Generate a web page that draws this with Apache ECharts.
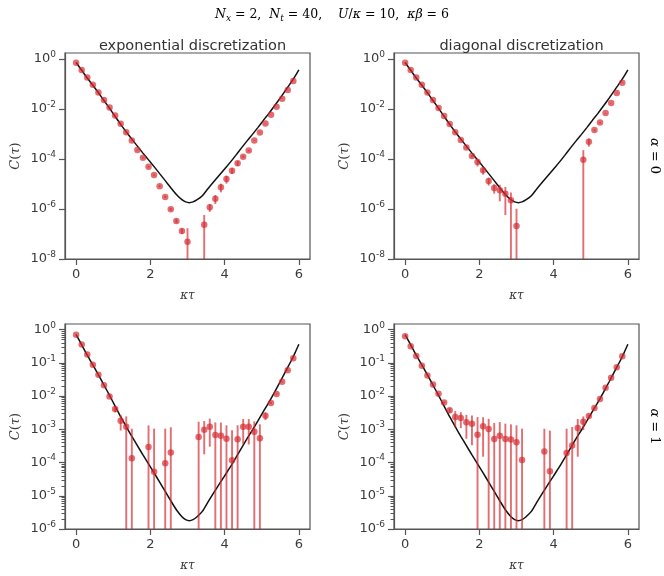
<!DOCTYPE html>
<html>
<head>
<meta charset="utf-8">
<script src="https://cdn.jsdelivr.net/npm/echarts@6/dist/echarts.min.js"></script>
<style>
  html, body { margin: 0; padding: 0; background: #fff; }
  #chart { width: 664px; height: 576px; }
</style>
</head>
<body>
<div id="chart"></div>
<script>
// imaginary time grid of the Monte Carlo data (N_t = 40, beta = 6)
const tau = [0, 0.15, 0.3, 0.45, 0.6, 0.75, 0.9, 1.05, 1.2, 1.35,
  1.5, 1.65, 1.8, 1.95, 2.1, 2.25, 2.4, 2.55, 2.7, 2.85,
  3.0, 3.15, 3.3, 3.45, 3.6, 3.75, 3.9, 4.05, 4.2, 4.35,
  4.5, 4.65, 4.8, 4.95, 5.1, 5.25, 5.4, 5.55, 5.7, 5.85]

// exact correlator (black line)
const exactTau = [0, 0.15, 0.3, 0.45, 0.6, 0.75, 0.9, 1.05, 1.2, 1.35,
  1.5, 1.65, 1.8, 1.95, 2.1, 2.25, 2.4, 2.55, 2.7, 2.85,
  2.95, 3.05, 3.15, 3.25, 3.4, 3.55, 3.7, 3.85, 4.0, 4.15,
  4.3, 4.45, 4.6, 4.75, 4.9, 5.05, 5.2, 5.35, 5.5, 5.65,
  5.8, 5.9, 6.0]
const exactC = [0.708, 0.347, 0.170, 0.0871, 0.0437, 0.0214, 0.0105, 5.01e-3, 2.40e-3, 1.20e-3,
  6.17e-4, 3.24e-4, 1.70e-4, 9.12e-5, 4.90e-5, 2.57e-5, 1.35e-5, 7.08e-6, 3.80e-6, 2.34e-6,
  1.91e-6, 1.78e-6, 1.91e-6, 2.29e-6, 3.39e-6, 6.46e-6, 1.20e-5, 2.19e-5, 3.98e-5, 7.24e-5,
  1.38e-4, 2.69e-4, 5.13e-4, 9.55e-4, 1.82e-3, 3.55e-3, 6.76e-3, 0.0135, 0.0275, 0.0575,
  0.120, 0.204, 0.363]

// alpha = 0, exponential discretization
const expA0 = [0.692, 0.355, 0.178, 0.0912, 0.0447, 0.0224, 0.0112, 5.37e-3, 2.51e-3, 1.17e-3,
  5.37e-4, 2.24e-4, 1.10e-4, 4.90e-5, 2.29e-5, 8.13e-6, 3.02e-6, 9.77e-7, 3.31e-7, 1.32e-7,
  4.90e-8, null, null, 2.34e-7, 1.17e-6, 2.57e-6, 7.41e-6, 1.58e-5, 3.39e-5, 6.76e-5,
  1.23e-4, 2.14e-4, 5.37e-4, 1.12e-3, 2.57e-3, 5.75e-3, 0.0120, 0.0251, 0.0562, 0.129]
const expA0Err = [0.01, 6e-3, 3e-3, 1.5e-3, 8e-4, 4e-4, 2e-4, 1e-4, 6e-5, 3e-5,
  2e-5, 1e-5, 5e-6, 3e-6, 1.5e-6, 7e-7, 3e-7, 1.2e-7, 6e-8, 3e-8,
  1.21e-7, null, null, 3.4e-7, 4e-7, 1e-6, 2.8e-6, 5.5e-6, 8.8e-6, 1.5e-5,
  1.2e-5, 1.5e-5, 2e-5, 3e-5, 5e-5, 1e-4, 2e-4, 4e-4, 8e-4, 2e-3]

// alpha = 0, diagonal discretization
const diagA0 = [0.692, 0.355, 0.178, 0.0912, 0.0447, 0.0224, 0.0107, 5.13e-3, 2.45e-3, 1.17e-3,
  5.62e-4, 2.82e-4, 1.29e-4, 7.59e-5, 3.55e-5, 1.32e-5, 6.92e-6, 5.62e-6, 4.07e-6, 2.24e-6,
  2.09e-7, null, null, null, null, null, null, null, null, null,
  null, null, 9.33e-5, 4.79e-4, 1.41e-3, 2.82e-3, 6.76e-3, 0.0170, 0.0427, 0.110]
const diagA0Err = [0.01, 6e-3, 3e-3, 1.5e-3, 8e-4, 4e-4, 2e-4, 1e-4, 6e-5, 4e-5,
  2e-5, 1.5e-5, 1.2e-5, 2.6e-5, 1.2e-5, 4.6e-6, 2.85e-6, 3.6e-6, 3.5e-6, 2.3e-6,
  8.1e-7, null, null, null, null, null, null, null, null, null,
  null, null, 1.3e-4, 1.7e-4, 1e-4, 1.5e-4, 2e-4, 4e-4, 8e-4, 2e-3]

// alpha = 1, exponential discretization
const expA1 = [0.708, 0.355, 0.178, 0.0871, 0.0437, 0.0214, 9.77e-3, 4.07e-3, 1.82e-3, 1.20e-3,
  1.35e-4, null, null, 2.95e-4, 5.25e-5, null, 9.55e-5, 2.0e-4, null, null,
  null, null, 5.89e-4, 9.77e-4, 1.20e-3, 6.76e-4, 6.46e-4, 5.25e-4, 1.17e-4, 5.01e-4,
  1.20e-3, 1.20e-3, 8.51e-4, 5.37e-4, 2.57e-3, 6.17e-3, 0.0115, 0.0269, 0.0603, 0.138]
const expA1Err = [0.01, 6e-3, 4e-3, 2e-3, 1e-3, 6e-4, 4e-4, 8.3e-4, 9e-4, 1.25e-3,
  9.1e-4, null, null, 1.02e-3, 1.0e-3, null, 9.5e-4, 9.5e-4, null, null,
  null, null, 1.11e-3, 8e-4, 9e-4, 9.4e-4, 9.5e-4, 7.9e-4, 8.2e-4, 8.2e-4,
  8.5e-4, 8.5e-4, 8.8e-4, 8.8e-4, 6.7e-4, 4e-4, 5e-4, 8e-4, 1.5e-3, 3e-3]

// alpha = 1, diagonal discretization
const diagA1 = [0.631, 0.316, 0.162, 0.0813, 0.0417, 0.0224, 0.0117, 6.46e-3, 3.72e-3, 2.34e-3,
  2.19e-3, 1.62e-3, 1.48e-3, 6.92e-4, 1.23e-3, 1.02e-3, 5.13e-4, 6.46e-4, 5.13e-4, 4.90e-4,
  4.07e-4, 1.20e-4, null, null, null, 2.14e-4, 5.50e-5, null, null, 1.95e-4,
  3.24e-4, 1.10e-3, 1.70e-3, 2.51e-3, 4.37e-3, 8.13e-3, 0.0178, 0.0355, 0.0741, 0.158]
const diagA1Err = [0.01, 6e-3, 4e-3, 2e-3, 1e-3, 6e-4, 4e-4, 3e-4, 6.5e-4, 1.2e-3,
  1.1e-3, 1.1e-3, 1.15e-3, 1.65e-3, 1.08e-3, 1.05e-3, 1.04e-3, 1.01e-3, 9.7e-4, 9.2e-4,
  9.1e-4, 9.3e-4, null, null, null, 8.3e-4, 8.6e-4, null, null, 8.5e-4,
  8.5e-4, 9.5e-4, 7.5e-4, 2.5e-4, 2e-4, 3e-4, 5e-4, 8e-4, 1.5e-3, 3e-3]

const xTicks = [0, 2, 4, 6]
const yTicksTop = [1e-8, 1e-6, 1e-4, 1e-2, 1]
const yTicksBottom = [1e-6, 1e-5, 1e-4, 1e-3, 1e-2, 1e-1, 1]

const titles = ['exponential discretization', 'diagonal discretization']
const rowLabels = ['0', '1']

const textColor = '#3a3a3a'
const spineColor = '#555'
const dotColor = 'rgba(214, 40, 46, 0.85)'
const errColor = 'rgba(214, 40, 46, 0.68)'
const mathFont = 'DejaVu Serif'
const xMin = -0.3
const xMax = 6.3

const panels = [
  { vals: expA0, err: expA0Err, yMin: 1e-8, yMax: 1.7, yTicks: yTicksTop, minor: false },
  { vals: diagA0, err: diagA0Err, yMin: 1e-8, yMax: 1.7, yTicks: yTicksTop, minor: false },
  { vals: expA1, err: expA1Err, yMin: 1e-6, yMax: 1.48, yTicks: yTicksBottom, minor: true },
  { vals: diagA1, err: diagA1Err, yMin: 1e-6, yMax: 1.48, yTicks: yTicksBottom, minor: true }
]

const grids = [
  { left: 65, top: 53, width: 245, height: 206 },
  { left: 394, top: 53, width: 245, height: 206 },
  { left: 65, top: 324, width: 245, height: 205 },
  { left: 394, top: 324, width: 245, height: 205 }
]

const mathRich = {
  i: { fontFamily: mathFont, fontStyle: 'italic', fontSize: 13, color: textColor },
  r: { fontFamily: mathFont, fontSize: 13, color: textColor }
}

const supRich = {
  b: { fontFamily: 'DejaVu Sans', fontSize: 13, color: textColor, lineHeight: 18 },
  s: { fontFamily: 'DejaVu Sans', fontSize: 9, color: textColor, lineHeight: 10, verticalAlign: 'top' }
}

function errRenderItem(yMin) {
  return function (params, api) {
    const t = api.value(0)
    const v = api.value(1)
    const s = api.value(2)
    const lo = v - s > 0 ? v - s : yMin
    const p1 = api.coord([t, v + s])
    const p2 = api.coord([t, lo])
    return {
      type: 'line',
      shape: { x1: p1[0], y1: p1[1], x2: p2[0], y2: p2[1] },
      style: { stroke: errColor, lineWidth: 1.9 }
    }
  }
}

const xAxes = []
const yAxes = []
const series = []
const titleList = []

panels.forEach((p, i) => {
  xAxes.push({
    type: 'value', gridIndex: i, min: xMin, max: xMax,
    name: 'κτ', nameLocation: 'middle', nameGap: 31,
    nameTextStyle: { fontFamily: mathFont, fontStyle: 'italic', fontSize: 12, color: textColor },
    axisLine: { onZero: false, lineStyle: { color: spineColor, width: 1.2 } },
    axisTick: { length: 6, lineStyle: { color: spineColor, width: 1.2 }, customValues: xTicks },
    axisLabel: { customValues: xTicks, margin: 9, fontFamily: 'DejaVu Sans', fontSize: 13, color: textColor },
    splitLine: { show: false }
  })
  yAxes.push({
    type: 'log', logBase: 10, gridIndex: i, min: p.yMin, max: p.yMax, position: 'left',
    name: '{i|C}{r|(}{i|τ}{r|)}', nameLocation: 'middle', nameGap: 43, nameRotate: 90,
    nameTextStyle: { rich: mathRich },
    axisLine: { onZero: false, lineStyle: { color: spineColor, width: 1.2 } },
    axisTick: { length: 6, lineStyle: { color: spineColor, width: 1.2 }, customValues: p.yTicks },
    minorTick: { show: p.minor, splitNumber: 9, length: 3.5, lineStyle: { color: spineColor, width: 1 } },
    axisLabel: {
      customValues: p.yTicks, margin: 9, rich: supRich,
      formatter: v => '{b|10}{s|' + Math.round(Math.log10(v)) + '}'
    },
    splitLine: { show: false },
    minorSplitLine: { show: false }
  })

  const pts = []
  const bars = []
  tau.forEach((t, k) => {
    if (p.vals[k] == null) return
    pts.push([t, p.vals[k]])
    bars.push([t, p.vals[k], p.err[k]])
  })
  series.push({
    type: 'line', xAxisIndex: i, yAxisIndex: i,
    data: exactTau.map((t, k) => [t, exactC[k]]),
    showSymbol: false, symbol: 'none', smooth: 0.25,
    lineStyle: { color: '#111', width: 1.5 }, z: 2, silent: true
  })
  series.push({
    type: 'custom', xAxisIndex: i, yAxisIndex: i, data: bars,
    encode: { x: 0, y: 1 }, renderItem: errRenderItem(p.yMin), clip: true, z: 3, silent: true
  })
  series.push({
    type: 'scatter', xAxisIndex: i, yAxisIndex: i, data: pts,
    symbolSize: 6.5, itemStyle: { color: dotColor }, z: 4, silent: true
  })
})

titles.forEach((t, i) => {
  titleList.push({
    text: t, left: grids[i].left + grids[i].width / 2, top: 34, textAlign: 'center',
    textStyle: { fontFamily: 'DejaVu Sans', fontSize: 14.5, fontWeight: 'normal', color: '#333' }
  })
})

const chart = echarts.init(document.getElementById('chart'), null, { renderer: 'canvas' })
chart.setOption({
  backgroundColor: '#fff',
  animation: false,
  title: titleList,
  grid: grids.map(g => Object.assign({ show: true, borderColor: spineColor, borderWidth: 1.2, backgroundColor: 'transparent' }, g)),
  xAxis: xAxes,
  yAxis: yAxes,
  series: series,
  graphic: [
    {
      type: 'text', left: 'center', top: 8,
      style: {
        text: '{i|N}{sub|x}{r| = 2,  }{i|N}{sub|t}{r| = 40,    }{i|U}{r|/}{i|κ}{r| = 10,  }{i|κβ}{r| = 6}',
        rich: {
          i: { fontFamily: mathFont, fontStyle: 'italic', fontSize: 12.5, color: textColor, lineHeight: 18 },
          r: { fontFamily: mathFont, fontSize: 12.5, color: textColor, lineHeight: 18 },
          sub: { fontFamily: mathFont, fontStyle: 'italic', fontSize: 9, color: textColor, lineHeight: 11, verticalAlign: 'bottom' }
        }
      }
    }
  ].concat(rowLabels.map((r, i) => ({
    type: 'text', x: 654, y: grids[i * 2].top + grids[i * 2].height / 2, rotation: -Math.PI / 2,
    style: {
      text: '{i|α}{r| = ' + r + '}', align: 'center', verticalAlign: 'middle',
      rich: mathRich
    }
  })))
})
</script>
</body>
</html>
